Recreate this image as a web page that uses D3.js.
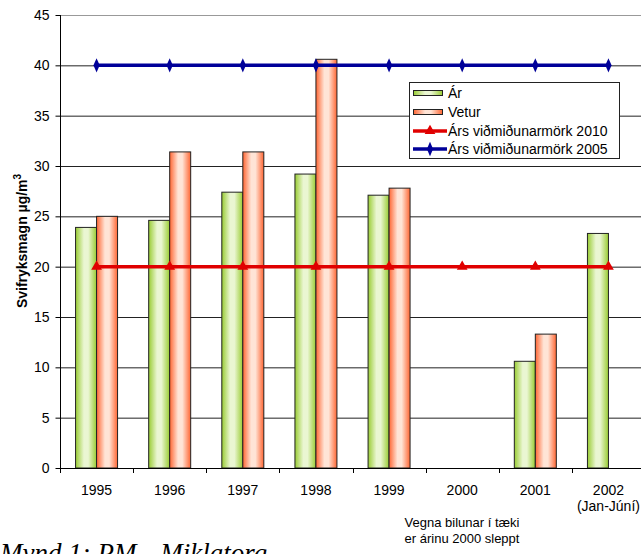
<!DOCTYPE html>
<html><head><meta charset="utf-8">
<script src="https://cdn.jsdelivr.net/npm/d3@7"></script>
<style>body{margin:0;background:#fff}svg{display:block;font-family:Arial,"Liberation Sans",sans-serif}</style>
</head><body><svg id="c" width="641" height="554"></svg>
<script>
const categories = ["1995","1996","1997","1998","1999","2000","2001","2002"];
const arValues = [23.9, 24.6, 27.4, 29.2, 27.1, null, 10.6, 23.3];
const veturValues = [25.0, 31.4, 31.4, 40.6, 27.8, null, 13.3, null];
const limit2010 = [20,20,20,20,20,20,20,20];
const limit2005 = [40,40,40,40,40,40,40,40];
const yTicks = [0,5,10,15,20,25,30,35,40,45];
const seriesNames = ["Ár","Vetur","Árs viðmiðunarmörk 2010","Árs viðmiðunarmörk 2005"];

const svg = d3.select("#c");
const defs = svg.append("defs");
function grad(id, edge, light){
  const g = defs.append("linearGradient").attr("id",id).attr("x1","0").attr("x2","1").attr("y1","0").attr("y2","0");
  g.append("stop").attr("offset","0").attr("stop-color",edge);
  g.append("stop").attr("offset","0.4").attr("stop-color",light);
  g.append("stop").attr("offset","0.6").attr("stop-color",light);
  g.append("stop").attr("offset","1").attr("stop-color",edge);
}
grad("gG","#99cc33","#eaf6d2");
grad("gO","#ff6633","#ffe4d6");

const x = d3.scaleBand().domain(categories).range([60,645]);
const y = d3.scaleLinear().domain([0,45]).range([468,15]);
const step = x.bandwidth();
const bw = 21;
const FS = 14;

// gridlines
svg.append("g").selectAll("line").data(yTicks.filter(d=>d>0)).join("line")
  .attr("x1",60).attr("x2",641).attr("y1",d=>y(d)+0.5).attr("y2",d=>y(d)+0.5)
  .attr("stroke",d=>d===45?"#999":"#222").attr("stroke-width",1);

// bars
const bars = svg.append("g");
categories.forEach((c,i)=>{
  const cx = x(c)+step/2;
  if(arValues[i]!=null) bars.append("rect").attr("x",cx-bw).attr("y",y(arValues[i])).attr("width",bw).attr("height",y(0)-y(arValues[i]))
    .attr("fill","url(#gG)").attr("stroke","#222").attr("stroke-width",1);
  if(veturValues[i]!=null) bars.append("rect").attr("x",cx).attr("y",y(veturValues[i])).attr("width",bw).attr("height",y(0)-y(veturValues[i]))
    .attr("fill","url(#gO)").attr("stroke","#222").attr("stroke-width",1);
});

// axes
const yAxis = d3.axisLeft(y).tickValues(yTicks).tickSize(5).tickPadding(6);
const ya = svg.append("g").attr("transform","translate(60.5,0)").call(yAxis);
ya.select(".domain").attr("stroke","#000").attr("d","M0,15V468.5");
ya.selectAll("text").attr("font-size",FS).attr("font-family","Arial,'Liberation Sans',sans-serif").attr("fill","#000");
ya.selectAll(".tick line").attr("stroke","#000");

const xa = svg.append("g");
xa.append("line").attr("x1",60).attr("x2",641).attr("y1",468.5).attr("y2",468.5).attr("stroke","#000");
xa.selectAll("line.t").data(categories).join("line").attr("class","t")
  .attr("x1",d=>Math.round(x(d))+0.5).attr("x2",d=>Math.round(x(d))+0.5).attr("y1",468).attr("y2",473).attr("stroke","#000");
xa.selectAll("text").data(categories).join("text")
  .attr("x",d=>x(d)+step/2).attr("y",495).attr("text-anchor","middle").attr("font-size",FS).text(d=>d);
svg.append("text").attr("x",x("2002")+step/2).attr("y",511).attr("text-anchor","middle").attr("font-size",FS).text("(Jan-Júní)");

// lines
const line = d3.line().x((d,i)=>x(categories[i])+step/2).y(d=>y(d));
svg.append("path").attr("d",line(limit2010)).attr("fill","none").attr("stroke","#e00000").attr("stroke-width",3.5);
svg.append("path").attr("d",line(limit2005)).attr("fill","none").attr("stroke","#000099").attr("stroke-width",3.5);
svg.append("g").selectAll("path").data(limit2010).join("path")
  .attr("transform",(d,i)=>`translate(${x(categories[i])+step/2},${y(d)})`)
  .attr("d",d3.symbol(d3.symbolTriangle,50)).attr("fill","#e00000");
svg.append("g").selectAll("path").data(limit2005).join("path")
  .attr("transform",(d,i)=>`translate(${x(categories[i])+step/2},${y(d)}) scale(0.75,1)`)
  .attr("d",d3.symbol(d3.symbolDiamond,60)).attr("fill","#000099");

// y label
svg.append("text").attr("transform","translate(27,241) rotate(-90)").attr("text-anchor","middle")
  .attr("font-size",14).attr("font-weight","bold")
  .html('Svifryksmagn µg/m<tspan dy="-6" font-size="10">3</tspan>');

// legend
const lg = svg.append("g");
lg.append("rect").attr("x",409.5).attr("y",82.5).attr("width",210).attr("height",76).attr("fill","#fff").attr("stroke","#222");
const rowsY = [93,112,131,149];
seriesNames.forEach((n,i)=>{
  const cy = rowsY[i];
  if(i<2){
    lg.append("rect").attr("x",413.5).attr("y",cy-2.5).attr("width",29).attr("height",5)
      .attr("fill",i===0?"url(#gG)":"url(#gO)").attr("stroke","#222");
  } else {
    const col = i===2?"#e00000":"#000099";
    lg.append("line").attr("x1",413).attr("x2",447).attr("y1",cy).attr("y2",cy).attr("stroke",col).attr("stroke-width",3.5);
    lg.append("path").attr("transform",i===2?`translate(430,${cy})`:`translate(430,${cy}) scale(0.75,1)`)
      .attr("d",d3.symbol(i===2?d3.symbolTriangle:d3.symbolDiamond,i===2?50:60)).attr("fill",col);
  }
  lg.append("text").attr("x",448).attr("y",cy+5).attr("font-size",FS).text(n);
});

// note
svg.append("text").attr("x",462).attr("y",527).attr("text-anchor","middle").attr("font-size",13).text("Vegna bilunar í tæki");
svg.append("text").attr("x",462).attr("y",543).attr("text-anchor","middle").attr("font-size",13).text("er árinu 2000 sleppt");

// caption (cut off at bottom, as in the reference)
svg.append("text").attr("x",0).attr("y",562).attr("font-family","'Liberation Serif','DejaVu Serif',serif")
  .attr("font-style","italic").attr("font-size",27)
  .html('Mynd 1: PM<tspan dy="5" font-size="17">10</tspan><tspan dy="-5"> Miklatorg</tspan>');
</script></body></html>
